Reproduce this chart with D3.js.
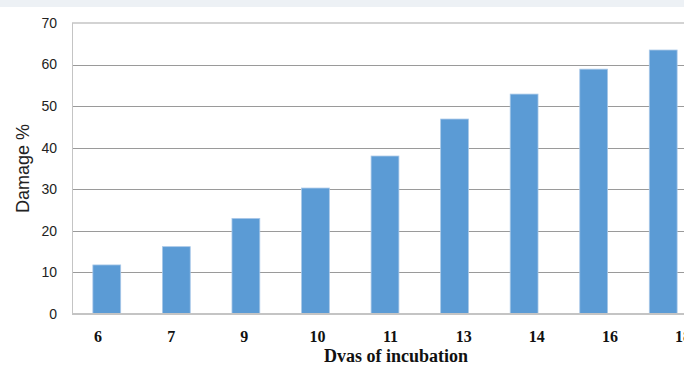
<!DOCTYPE html>
<html><head><meta charset="utf-8">
<script src="https://cdn.jsdelivr.net/npm/d3@7"></script>
<style>body{margin:0;background:#fff;overflow:hidden}svg{display:block}</style>
</head><body>
<svg id="c" width="684" height="365"></svg>
<script>
const categories = ["6","7","9","10","11","13","14","16","18"];
const damage = [11.8, 16.2, 23.0, 30.3, 38.0, 46.9, 52.9, 58.9, 63.5];
const yTicks = [0,10,20,30,40,50,60,70];

const svg = d3.select("#c");
const W = 684, H = 365;
const m = {left:72, top:23, right:-14, bottom:51};
const x = d3.scaleBand().domain(categories).range([m.left, W - m.right]).paddingInner(0.6).paddingOuter(0.3);
// category labels are laid out on their own slightly wider spacing (as in the source)
const xl = d3.scalePoint().domain(categories).range([98, 683]);
const y = d3.scaleLinear().domain([0,70]).range([H - m.bottom, m.top]);

svg.append("rect").attr("x",0).attr("y",0).attr("width",W).attr("height",7).attr("fill","#edf1f5");

// gridlines
svg.append("g").selectAll("line").data(yTicks.filter(t=>t>0&&t<70)).join("line")
  .attr("x1",m.left).attr("x2",W).attr("y1",d=>Math.round(y(d))+0.5).attr("y2",d=>Math.round(y(d))+0.5)
  .attr("stroke","#9a9a9a").attr("stroke-width",1);
svg.append("line").attr("x1",m.left).attr("x2",W).attr("y1",y(70)).attr("y2",y(70))
  .attr("stroke","#c4c4c4").attr("stroke-width",1.5);
// left axis line
svg.append("line").attr("x1",m.left+0.5).attr("x2",m.left+0.5).attr("y1",y(70)).attr("y2",y(0))
  .attr("stroke","#c4c4c4").attr("stroke-width",1);

// bars
svg.append("g").selectAll("rect").data(categories).join("rect")
  .attr("x",d=>x(d)).attr("width",x.bandwidth())
  .attr("y",(d,i)=>y(damage[i])).attr("height",(d,i)=>y(0)-y(damage[i]))
  .attr("fill","#5b9bd5").attr("stroke","#a9c8e8").attr("stroke-width",0.8);

// bottom axis line
svg.append("line").attr("x1",m.left).attr("x2",W).attr("y1",y(0)).attr("y2",y(0))
  .attr("stroke","#c4c4c4").attr("stroke-width",2);

// y tick labels
svg.append("g").selectAll("text").data(yTicks).join("text")
  .attr("x",57).attr("y",d=>y(d)).attr("dy","0.35em").attr("text-anchor","end")
  .attr("font-family","Liberation Sans, Arial, sans-serif").attr("font-size",14).attr("fill","#222")
  .text(d=>d);

// x tick labels
svg.append("g").selectAll("text").data(categories).join("text")
  .attr("x",d=>xl(d)).attr("y",336).attr("dy","0.35em").attr("text-anchor","middle")
  .attr("font-family","Liberation Serif, Times New Roman, serif").attr("font-weight","bold").attr("font-size",16).attr("fill","#111")
  .text(d=>d);

// axis titles
svg.append("text").attr("transform","translate(23,"+((y(0)+y(70))/2)+") rotate(-90)")
  .attr("text-anchor","middle").attr("dy","0.35em")
  .attr("font-family","Liberation Sans, Arial, sans-serif").attr("font-size",18).attr("fill","#222")
  .text("Damage %");
svg.append("text").attr("x",396).attr("y",356).attr("dy","0.35em").attr("text-anchor","middle")
  .attr("font-family","Liberation Serif, Times New Roman, serif").attr("font-weight","bold").attr("font-size",18).attr("fill","#111")
  .text("Dvas of incubation");
</script>
</body></html>
